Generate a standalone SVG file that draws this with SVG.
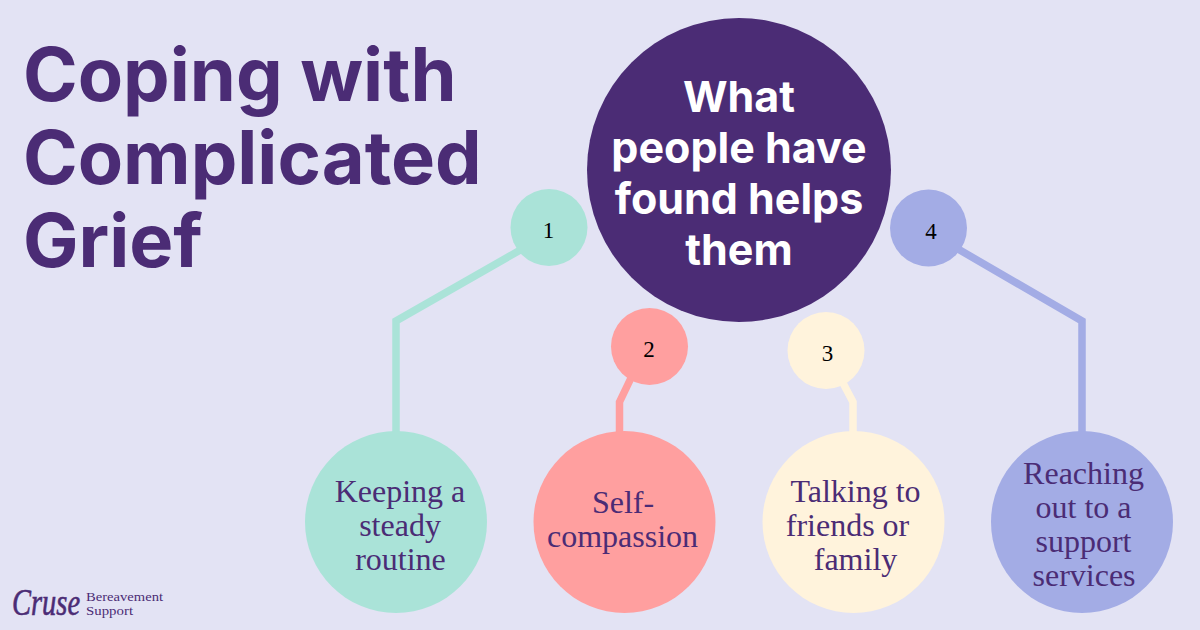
<svg xmlns="http://www.w3.org/2000/svg" width="1200" height="630" viewBox="0 0 1200 630">
<style>
.h{font-family:"Inter","Liberation Sans",sans-serif;font-weight:700;fill:#4b2c75}
.c{font-family:"Inter","Liberation Sans",sans-serif;font-weight:700;fill:#fff;font-size:43px;text-anchor:middle}
.b{font-family:"Liberation Serif",serif;fill:#4b2c75;font-size:32px;text-anchor:middle}
.n{font-family:"Liberation Serif",serif;fill:#000;font-size:23px;text-anchor:middle}
.l{fill:none;stroke-width:7.500}
</style>
<rect width="1200" height="630" fill="#e3e3f4"/>
<g id="connectors">
<path class="l" stroke="#aae3d8" d="M522 249L396 321V435"/>
<path class="l" stroke="#ff9f9f" d="M631 378L619.500 402V435"/>
<path class="l" stroke="#fff3dc" d="M843 383L853 402V435"/>
<path class="l" stroke="#a3ace5" d="M958 249L1082 321V435"/>
</g>
<g id="title"><text class="h" font-size="74"><tspan x="23" y="101">Coping with</tspan><tspan x="23" y="184">Complicated</tspan><tspan x="23" y="267">Grief</tspan></text></g>
<g id="center"><circle cx="739" cy="170" r="152" fill="#4b2c75"/><text class="c"><tspan x="739" y="112">What</tspan><tspan x="739" y="163">people have</tspan><tspan x="739" y="214">found helps</tspan><tspan x="739" y="265">them</tspan></text></g>
<g id="n1"><circle cx="549" cy="227.500" r="38.500" fill="#aae3d8"/><text class="n" x="548.500" y="238">1</text></g>
<g id="n2"><circle cx="649.500" cy="346.500" r="38.500" fill="#ff9f9f"/><text class="n" x="649" y="357">2</text></g>
<g id="n3"><circle cx="826" cy="350.500" r="38.500" fill="#fff3dc"/><text class="n" x="827.500" y="361">3</text></g>
<g id="n4"><circle cx="928.500" cy="228" r="38.500" fill="#a3ace5"/><text class="n" x="931" y="239">4</text></g>
<g id="a1"><circle cx="396" cy="522" r="91" fill="#aae3d8"/><text class="b"><tspan x="400" y="502">Keeping a</tspan><tspan x="400" y="536">steady</tspan><tspan x="400.500" y="570">routine</tspan></text></g>
<g id="a2"><circle cx="624.500" cy="522" r="91" fill="#ff9f9f"/><text class="b"><tspan x="623" y="513">Self-</tspan><tspan x="622.500" y="547">compassion</tspan></text></g>
<g id="a3"><circle cx="853.500" cy="522" r="91" fill="#fff3dc"/><text class="b"><tspan x="855.500" y="502">Talking to</tspan><tspan x="847.500" y="536">friends or</tspan><tspan x="855.500" y="570">family</tspan></text></g>
<g id="a4"><circle cx="1082" cy="522" r="91" fill="#a3ace5"/><text class="b"><tspan x="1083.500" y="484">Reaching</tspan><tspan x="1083.500" y="518">out to a</tspan><tspan x="1083.500" y="552">support</tspan><tspan x="1084" y="586">services</tspan></text></g>
<g id="logo"><text font-family="'Liberation Serif',serif" font-style="italic" font-size="37" fill="#4b2c75" stroke="#4b2c75" stroke-width=".6" transform="translate(12 615) scale(.77 1)">Cruse</text><text font-family="'Liberation Serif',serif" font-size="11.500" fill="#4b2c75"><tspan x="86" y="601" textLength="77" lengthAdjust="spacingAndGlyphs">Bereavement</tspan><tspan x="86" y="615" textLength="47" lengthAdjust="spacingAndGlyphs">Support</tspan></text></g>
</svg>
